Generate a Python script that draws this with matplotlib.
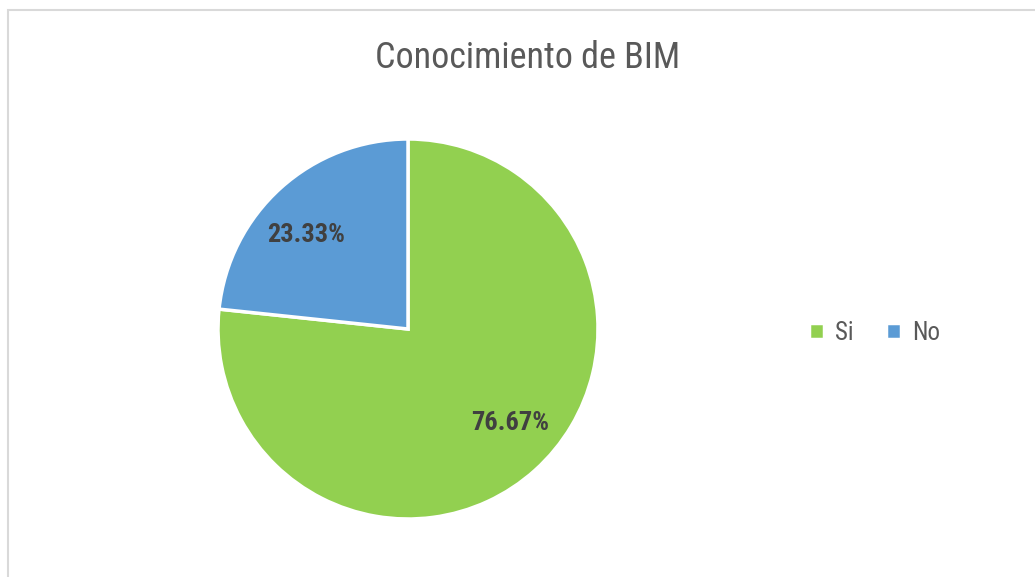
import numpy as np
import matplotlib.pyplot as plt
from matplotlib.patches import Rectangle

labels = ['Si', 'No']
values = [76.67, 23.33]
colors = ['#92D050', '#5B9BD5']

FONT = ['Roboto Condensed', 'DejaVu Sans']

W, H = 1035, 577
fig = plt.figure(figsize=(W / 100, H / 100), dpi=100)
ax = fig.add_axes([0, 0, 1, 1])
ax.set_xlim(0, W)
ax.set_ylim(0, H)
ax.set_aspect('equal')
ax.axis('off')

# chart border (cut by the image on the right and bottom)
ax.add_patch(Rectangle((8, -20), W + 20, H - 10 + 20, fill=False,
                       edgecolor='#D9D9D9', linewidth=1.5))

cx, cy = 408, H - 329
wedges, texts, autotexts = ax.pie(
    values, colors=colors, startangle=90, counterclock=False,
    center=(cx, cy), radius=190,
    autopct=lambda p: f'{p:.2f}%', pctdistance=0.73,
    wedgeprops=dict(edgecolor='white', linewidth=2.5),
    textprops=dict(fontsize=19, color='#404040', family=FONT,
                   fontweight='bold'))
ax.set_xlim(0, W)
ax.set_ylim(0, H)

# Excel puts the labels a bit further round, nudge them ~5 degrees
rot = np.deg2rad(5.5)
for t in autotexts:
    x, y = t.get_position()
    dx, dy = x - cx, y - cy
    t.set_position((cx + dx * np.cos(rot) - dy * np.sin(rot),
                    cy + dx * np.sin(rot) + dy * np.cos(rot)))

ax.text(528, H - 58, 'Conocimiento de BIM', ha='center', va='center',
        fontsize=26, color='#595959', family=FONT)

leg = ax.legend(wedges, labels, ncol=2, loc='center left',
                bbox_to_anchor=(786 / W, 1 - 333 / H), frameon=False,
                handlelength=0.6, handleheight=0.6, handletextpad=0.45,
                columnspacing=1.3, prop=dict(family=FONT, size=18))
for t in leg.get_texts():
    t.set_color('#595959')

fig.savefig('out.png', dpi=100)
